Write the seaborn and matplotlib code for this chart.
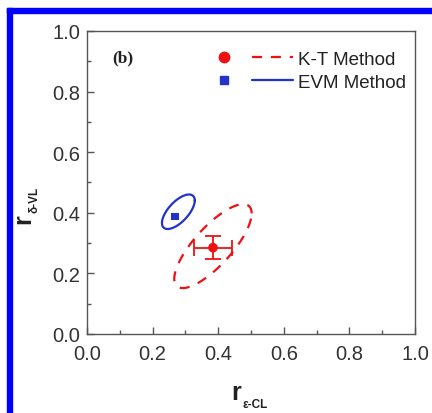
import numpy as np
import pandas as pd
import matplotlib
matplotlib.use('Agg')
import matplotlib.pyplot as plt
import seaborn as sns
from matplotlib.lines import Line2D
from matplotlib.patches import Rectangle
from matplotlib.legend_handler import HandlerBase

# data
methods = ['K-T Method', 'EVM Method']
r_eps = [0.384, 0.268]
r_delta = [0.285, 0.388]
err_x = [0.058, 0.0]
err_y = [0.037, 0.0]
# ellipse: centre x, centre y, half width x, half width y, correlation
ell_cx = [0.384, 0.2785]
ell_cy = [0.29, 0.4035]
ell_sx = [0.118, 0.05]
ell_sy = [0.1385, 0.057]
ell_rho = [0.78, 0.65]

colors = ['#ee1111', '#2233cc']
markers = ['o', 's']
msize = [48, 30]
dashes = [(4.5, 4), '']

W, H = 432, 414

sns.set_theme(style='ticks')
plt.rcParams['font.family'] = ['Liberation Sans', 'DejaVu Sans']

fig = plt.figure(figsize=(W/100, H/100), dpi=100)
ax = fig.add_axes([87/W, 1-335/H, 328/W, 303/H])

t = np.linspace(0, 2*np.pi, 300)
for i, m in enumerate(methods):
    d = np.arccos(ell_rho[i])
    ex = ell_cx[i] + ell_sx[i]*np.cos(t)
    ey = ell_cy[i] + ell_sy[i]*np.cos(t - d)
    df = pd.DataFrame({'x': ex, 'y': ey})
    sns.lineplot(data=df, x='x', y='y', sort=False, ax=ax, color=colors[i],
                 lw=1.6, estimator=None)
    if dashes[i]:
        ax.lines[-1].set_dashes(dashes[i])

ax.errorbar(r_eps[0], r_delta[0], xerr=err_x[0], yerr=err_y[0], fmt='none',
            ecolor=colors[0], capsize=6, elinewidth=1.3, capthick=1.3)
for i in range(2):
    sns.scatterplot(x=[r_eps[i]], y=[r_delta[i]], color=colors[i], marker=markers[i],
                    s=msize[i], edgecolor='none', ax=ax, legend=False, zorder=5)

ax.set_xlim(0, 1)
ax.set_ylim(0, 1)
ax.set_xticks(np.arange(0, 1.01, 0.2))
ax.set_yticks(np.arange(0, 1.01, 0.2))
ax.set_xticks(np.arange(0.1, 1, 0.2), minor=True)
ax.set_yticks(np.arange(0.1, 1, 0.2), minor=True)
ax.tick_params(which='both', direction='in', color='#555555', width=1)
ax.tick_params(which='major', length=5, labelsize=14.5, labelcolor='#333333')
ax.tick_params(axis='x', which='major', pad=7)
ax.tick_params(axis='y', which='major', pad=5)
ax.tick_params(which='minor', length=3)
for s in ax.spines.values():
    s.set_color('#555555')
    s.set_linewidth(1)
ax.set_xlabel('')
ax.set_ylabel('')

# axis titles: large bold r with small bold subscript
fig.text(236/W, 1-393/H, 'r', fontsize=18, fontweight='bold', color='#222222',
         ha='center', va='center')
fig.text(242/W, 1-405/H, 'ε-CL', fontsize=8.5, fontweight='bold', color='#222222',
         ha='left', va='center')
fig.text(23/W, 1-219/H, 'r', fontsize=18, fontweight='bold', color='#222222',
         ha='center', va='center', rotation=90)
fig.text(35/W, 1-213/H, 'δ-VL', fontsize=8.5, fontweight='bold', color='#222222',
         ha='center', va='bottom', rotation=90)

ax.text(0.076, 0.914, '(b)', transform=ax.transAxes, fontsize=12.5, fontweight='bold',
        family='Liberation Serif', va='center', color='#222222')


class MarkerLine(HandlerBase):
    def create_artists(self, legend, orig_handle, xdescent, ydescent, width, height,
                       fontsize, trans):
        mk, ln = orig_handle
        y = height/2 - ydescent
        a = Line2D([0.09*width - xdescent], [y], ls='none', marker=mk.get_marker(),
                   color=mk.get_color(), ms=mk.get_markersize(), transform=trans)
        b = Line2D([0.46*width - xdescent, width - xdescent], [y, y],
                   color=ln.get_color(), lw=ln.get_linewidth(),
                   ls=ln.get_linestyle(), transform=trans)
        if ln.get_linestyle() != '-':
            b.set_dashes(dashes[0])
        return [a, b]


handles = []
for i in range(2):
    mk = Line2D([], [], ls='none', marker=markers[i], color=colors[i],
                ms=7.5 if i == 0 else 5.5)
    ln = Line2D([], [], color=colors[i], lw=1.6, ls='--' if dashes[i] else '-')
    handles.append((mk, ln))
ax.legend(handles, methods, handler_map={tuple: MarkerLine()},
          loc='upper left', bbox_to_anchor=(0.3465, 0.99), frameon=False,
          fontsize=13.5, handlelength=4.0, handletextpad=0.27, labelspacing=0.3,
          borderpad=0.4, labelcolor='#222222')

# blue frame of the source figure
fig.patches.append(Rectangle((7/W, 0), 5/W, 1-9/H, transform=fig.transFigure,
                             color='#0000ff', zorder=10))
fig.patches.append(Rectangle((7/W, 1-14/H), 1, 5/H, transform=fig.transFigure,
                             color='#0000ff', zorder=10))

fig.savefig('out.png', dpi=100)
